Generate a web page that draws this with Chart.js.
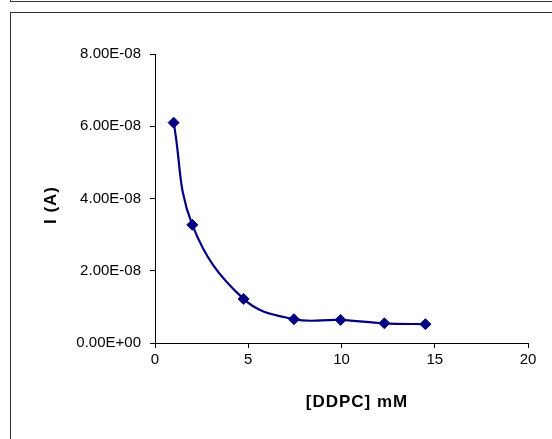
<!DOCTYPE html>
<html>
<head>
<meta charset="utf-8">
<script src="https://cdn.jsdelivr.net/npm/chart.js@4"></script>
<style>
  body { margin: 0; background: #fff; width: 552px; height: 439px; overflow: hidden; position: relative; }
  .prev-box { position: absolute; left: 10px; top: -10px; width: 600px; height: 10px; border: 1px solid #333; }
  .chart-box { position: absolute; left: 10px; top: 12px; width: 600px; height: 500px; border: 1px solid #333; }
  #chart { position: absolute; left: 0; top: 0; }
</style>
</head>
<body>
<div class="prev-box"></div>
<div class="chart-box"></div>
<canvas id="chart" width="552" height="439"></canvas>
<script>
// [DDPC] concentration (mM) and current (A)
const ddpc = [1.0, 2.0, 4.75, 7.45, 9.95, 12.3, 14.5];
const current = [6.10e-8, 3.27e-8, 1.22e-8, 0.66e-8, 0.64e-8, 0.545e-8, 0.52e-8];

const yTickLabels = ['0.00E+00', '2.00E-08', '4.00E-08', '6.00E-08', '8.00E-08'];
const xTitle = '[DDPC] mM';
const yTitle = 'I (A)';

const navy = '#000080';

// excel puts the axis titles a bit off-center, so draw them by hand
const axisTitles = {
  id: 'axisTitles',
  afterDraw(chart) {
    const ctx = chart.ctx;
    ctx.save();
    ctx.fillStyle = '#000';
    ctx.font = 'bold 17px "Liberation Sans", Arial, sans-serif';
    ctx.letterSpacing = '1px';
    ctx.textAlign = 'center';
    ctx.textBaseline = 'middle';
    ctx.fillText(xTitle, 357, 402);
    ctx.translate(51, 205);
    ctx.rotate(-Math.PI / 2);
    ctx.fillText(yTitle, 0, 0);
    ctx.restore();
  }
};

const data = {
  datasets: [{
    data: ddpc.map((x, i) => ({ x: x, y: current[i] })),
    borderColor: navy,
    backgroundColor: navy,
    borderWidth: 2.2,
    tension: 0.4,
    pointStyle: 'rectRot',
    pointRadius: 5.5,
    pointBorderWidth: 1,
    pointBorderColor: navy,
    pointBackgroundColor: navy,
  }]
};

const tickFont = { family: '"Liberation Sans", Arial, sans-serif', size: 15 };

new Chart(document.getElementById('chart'), {
  type: 'line',
  data,
  options: {
    responsive: false,
    animation: false,
    devicePixelRatio: 1,
    layout: { padding: { left: 0, top: 54, right: 24, bottom: 0 } },
    plugins: { legend: { display: false }, tooltip: { enabled: false } },
    scales: {
      x: {
        type: 'linear',
        min: 0,
        max: 20,
        ticks: { stepSize: 5, color: '#000', font: tickFont, padding: 3, maxRotation: 0 },
        grid: { drawOnChartArea: false, tickLength: 5, tickColor: '#000' },
        border: { color: '#000', width: 1 },
        afterFit(scale) { scale.height = 96; }
      },
      y: {
        min: 0,
        max: 8e-8,
        ticks: {
          stepSize: 2e-8,
          color: '#000',
          font: tickFont,
          padding: 9,
          callback: (v, i) => yTickLabels[i]
        },
        grid: { drawOnChartArea: false, tickLength: 5, tickColor: '#000' },
        border: { color: '#000', width: 1 },
        afterFit(scale) { scale.width = 155; }
      }
    }
  },
  plugins: [axisTitles]
});
</script>
</body>
</html>
